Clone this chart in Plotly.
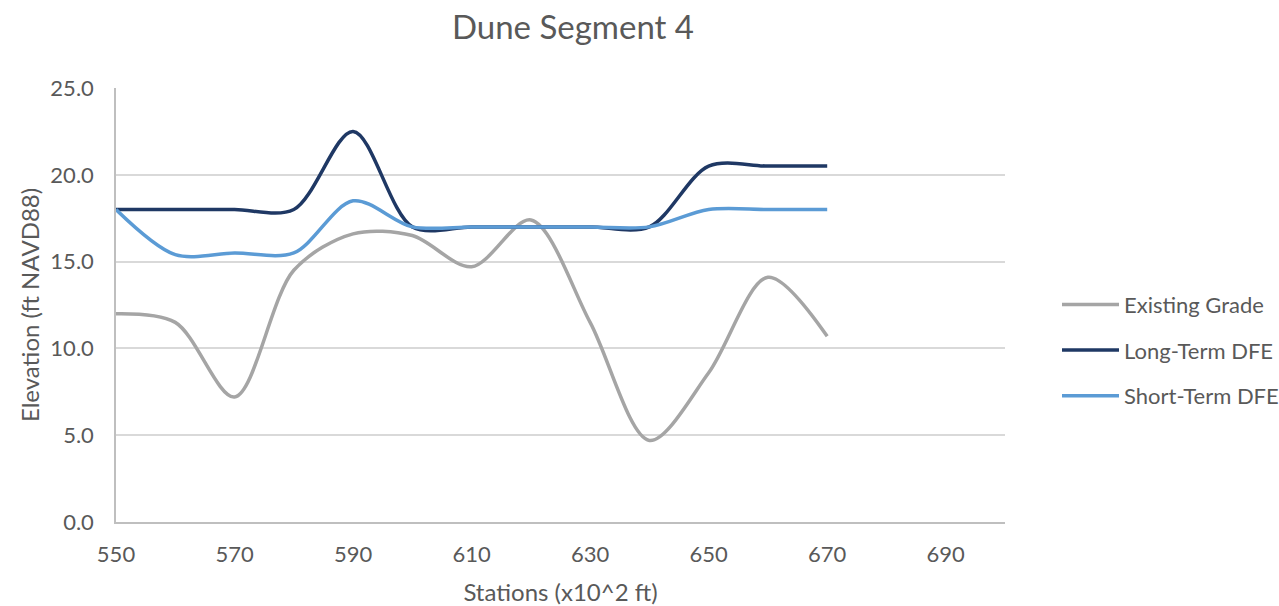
import plotly.graph_objects as go

stations = [550, 560, 570, 580, 590, 600, 610, 620, 630, 640, 650, 660, 670]
existing_grade = [12.0, 11.5, 7.2, 14.5, 16.6, 16.5, 14.7, 17.4, 11.5, 4.7, 8.6, 14.1, 10.7]
long_term_dfe = [18.0, 18.0, 18.0, 18.0, 22.5, 17.0, 17.0, 17.0, 17.0, 17.0, 20.5, 20.5, 20.5]
short_term_dfe = [18.0, 15.4, 15.5, 15.5, 18.5, 17.0, 17.0, 17.0, 17.0, 17.0, 18.0, 18.0, 18.0]

series = [
    ("Existing Grade", existing_grade, "#a5a5a5"),
    ("Long-Term DFE", long_term_dfe, "#1f3864"),
    ("Short-Term DFE", short_term_dfe, "#5b9bd5"),
]

FONT = "Lato, 'Open Sans', sans-serif"
TXT = "#595959"

fig = go.Figure()
for i, (name, vals, color) in enumerate(series):
    fig.add_trace(go.Scatter(
        x=stations, y=vals, name=name, mode="lines",
        line=dict(color=color, width=3.5, shape="spline", smoothing=0.9),
        legendgroup=str(i),
    ))

fig.update_layout(
    width=1279, height=606,
    paper_bgcolor="white", plot_bgcolor="white",
    margin=dict(l=116, r=274, t=88, b=84, autoexpand=False),
    font=dict(family=FONT, color=TXT, size=22),
    title=dict(text="Dune Segment 4", x=0.448, xanchor="center", y=0.955, yanchor="middle",
               font=dict(size=33, color=TXT, family=FONT)),
    legend=dict(x=1.0585, xanchor="left", y=0.396, yanchor="middle",
                font=dict(size=22, color=TXT), tracegroupgap=14,
                traceorder="grouped", itemwidth=57),
    showlegend=True,
)
fig.update_xaxes(
    range=[550, 700], tick0=550, dtick=20, showgrid=False, automargin=False,
    showline=True, linecolor="#bfbfbf", linewidth=1.5,
    ticks="", ticklabelstandoff=12, zeroline=False,
    title=dict(text="Stations (x10^2 ft)", font=dict(size=24, color=TXT), standoff=18),
)
fig.update_yaxes(
    range=[0, 25], tick0=0, dtick=5, tickformat=".1f", automargin=False,
    showgrid=True, gridcolor="#d9d9d9", gridwidth=1.5,
    showline=True, linecolor="#bfbfbf", linewidth=1.5, zeroline=False,
    ticks="", ticklabelstandoff=16,
    title=dict(text="Elevation (ft NAVD88)", font=dict(size=24, color=TXT), standoff=4),
)

fig.write_html("out.html")
